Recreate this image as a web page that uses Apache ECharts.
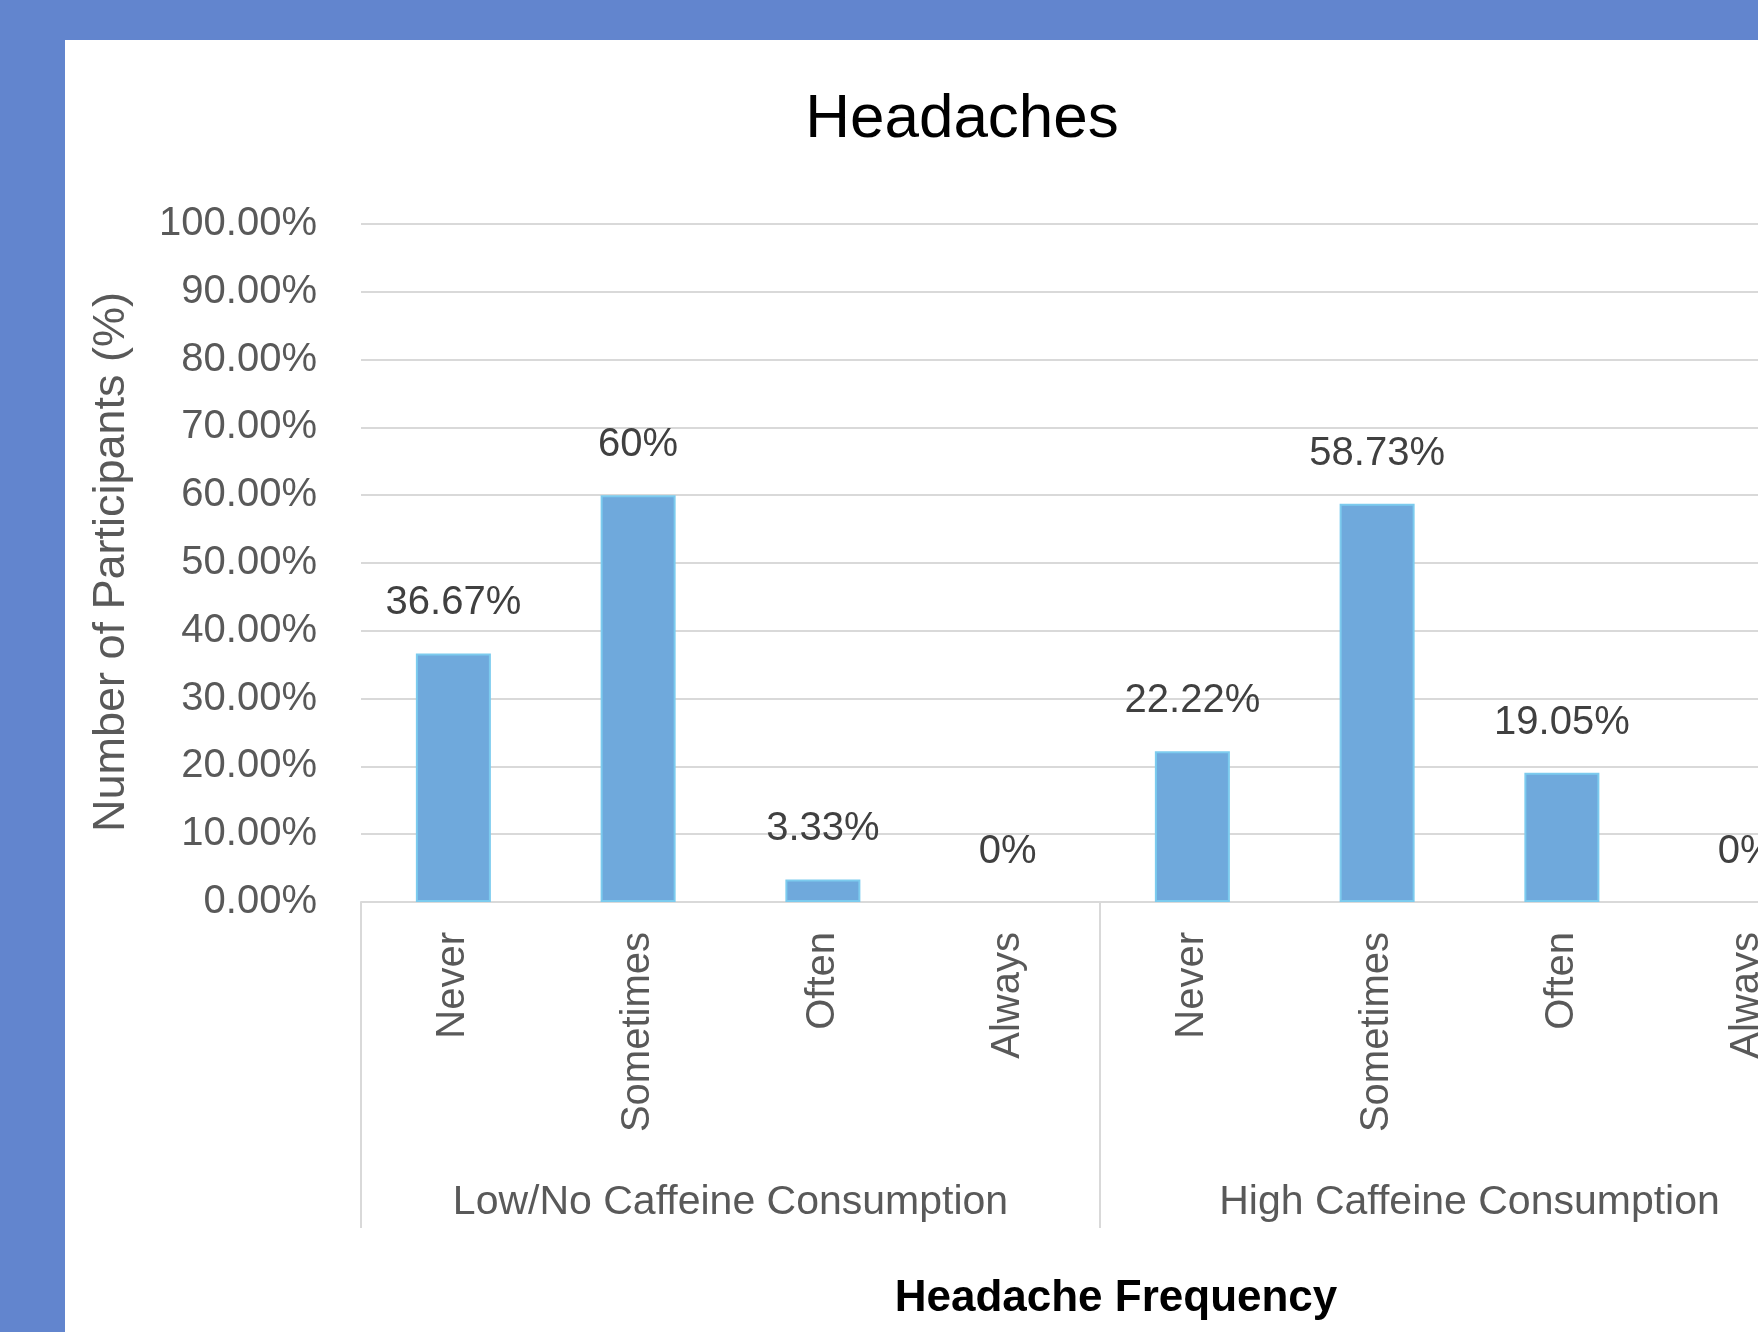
<!DOCTYPE html>
<html>
<head>
<meta charset="utf-8">
<title>Headaches</title>
<script src="https://cdn.jsdelivr.net/npm/echarts@6/dist/echarts.min.js"></script>
<style>
  html, body {
    margin: 0;
    padding: 0;
    width: 1758px;
    height: 1332px;
    overflow: hidden;
    background: #6285ce;
  }
  #chart {
    position: absolute;
    left: 65px;
    top: 40px;
    width: 1900px;
    height: 1292px;
    background: #ffffff;
  }
</style>
</head>
<body>
<div id="chart"></div>
<script>
// data
var frequencies = ['Never', 'Sometimes', 'Often', 'Always', 'Never', 'Sometimes', 'Often', 'Always'];
var groups = ['Low/No Caffeine Consumption', 'High Caffeine Consumption'];
var lowCaffeine = [36.67, 60, 3.33, 0];
var highCaffeine = [22.22, 58.73, 19.05, 0];
var yTicks = [0, 10, 20, 30, 40, 50, 60, 70, 80, 90, 100];

var font = 'Liberation Sans, Arial, sans-serif';

// zero bars have no visible outline in the original
var values = lowCaffeine.concat(highCaffeine).map(function(v) {
  return v === 0 ? { value: v, itemStyle: { borderWidth: 0 } } : v
});

var myChart = echarts.init(document.getElementById('chart'));

var option = {
  animation: false,
  grid: {
    left: 296,
    top: 184,
    width: 1478,
    height: 678,
    containLabel: false
  },
  xAxis: [{
    type: 'category',
    data: frequencies,
    axisLine: {
      lineStyle: { color: '#d9d9d9', width: 2 }
    },
    axisTick: { show: false },
    axisLabel: {
      interval: 0,
      rotate: 90,
      margin: 30,
      fontFamily: font,
      fontSize: 40,
      color: '#595959'
    }
  }, {
    // group labels with separators
    type: 'category',
    data: groups,
    position: 'bottom',
    offset: 326,
    axisLine: { show: false },
    axisTick: {
      show: true,
      inside: true,
      interval: 0,
      length: 326,
      lineStyle: { color: '#d9d9d9', width: 2 }
    },
    axisLabel: {
      interval: 0,
      margin: -46,
      fontFamily: font,
      fontSize: 41,
      color: '#595959'
    }
  }],
  yAxis: {
    type: 'value',
    min: yTicks[0],
    max: yTicks[yTicks.length - 1],
    interval: 10,
    axisLine: { show: false },
    axisTick: { show: false },
    axisLabel: {
      margin: 44,
      fontFamily: font,
      fontSize: 40,
      color: '#595959',
      formatter: function(v) {
        return v.toFixed(2) + '%'
      }
    },
    splitLine: {
      lineStyle: { color: '#d9d9d9', width: 2 }
    }
  },
  series: [{
    type: 'bar',
    data: values,
    barWidth: 75,
    itemStyle: {
      color: '#6fa9dc',
      borderColor: '#7ccbee',
      borderWidth: 2
    },
    label: {
      show: true,
      position: 'top',
      distance: 30,
      fontFamily: font,
      fontSize: 40,
      color: '#404040',
      formatter: function(p) {
        return p.value + '%'
      }
    }
  }],
  graphic: [{
    type: 'text',
    x: 897,
    y: 80,
    style: {
      text: 'Headaches',
      font: '62px ' + font,
      fill: '#000000',
      textAlign: 'center',
      textVerticalAlign: 'middle'
    }
  }, {
    type: 'text',
    x: 47,
    y: 522,
    rotation: Math.PI / 2,
    style: {
      text: 'Number of Participants (%)',
      font: '45px ' + font,
      fill: '#595959',
      textAlign: 'center',
      textVerticalAlign: 'middle'
    }
  }, {
    type: 'text',
    x: 1051,
    y: 1259,
    style: {
      text: 'Headache Frequency',
      font: 'bold 44px ' + font,
      fill: '#000000',
      textAlign: 'center',
      textVerticalAlign: 'middle'
    }
  }]
};

myChart.setOption(option);
</script>
</body>
</html>
